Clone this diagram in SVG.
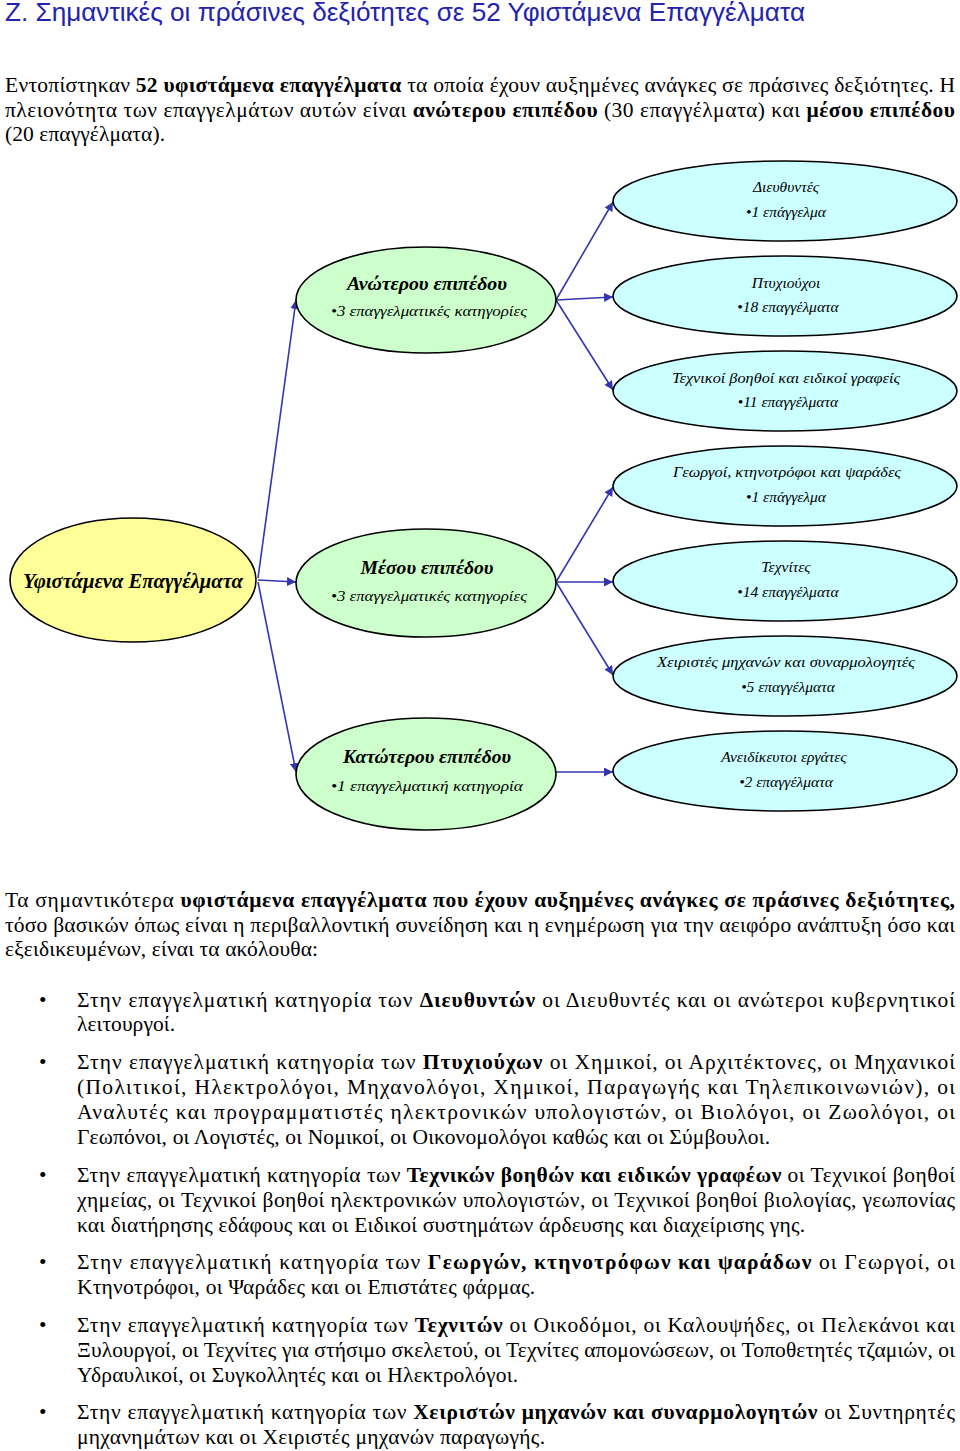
<svg xmlns="http://www.w3.org/2000/svg" width="960" height="1451" viewBox="0 0 960 1451">
<style>
.title{font-family:"Liberation Sans",Arial,sans-serif;font-size:25px;fill:#2323b0}
.body{font-family:"Liberation Serif","Times New Roman",serif;font-size:21.5px;fill:#000}
.b{font-weight:bold}
.root{fill:#ffff99;stroke:#000;stroke-width:1.6}
.mid{fill:#ccffcc;stroke:#000;stroke-width:1.6}
.leaf{fill:#ccffff;stroke:#000;stroke-width:1.6}
.et{font-family:"Liberation Serif","Times New Roman",serif;font-style:italic;fill:#000;text-anchor:middle}
.rt{font-size:21px;font-weight:bold}
.mt{font-size:19px;font-weight:bold}
.st{font-size:15.5px}
.conn line{stroke:#3535b0;stroke-width:1.6;marker-end:url(#arr)}
</style>
<defs>
<marker id="arr" viewBox="0 0 10 10" refX="10" refY="5" markerWidth="9" markerHeight="9" markerUnits="userSpaceOnUse" orient="auto">
<path d="M0,0 L10,5 L0,10 z" fill="#3535b0"/>
</marker>
</defs>
<rect width="960" height="1451" fill="#fff"/>

<text class="title" x="5" y="21" textLength="800" lengthAdjust="spacingAndGlyphs">Ζ. Σημαντικές οι πράσινες δεξιότητες σε 52 Υφιστάμενα Επαγγέλματα</text>

<g id="intro" class="body">
<text x="5" y="92" textLength="950" lengthAdjust="spacing">Εντοπίστηκαν <tspan class="b">52 υφιστάμενα επαγγέλματα</tspan> τα οποία έχουν αυξημένες ανάγκες σε πράσινες δεξιότητες. Η</text>
<text x="5" y="117" textLength="950" lengthAdjust="spacing">πλειονότητα των επαγγελμάτων αυτών είναι <tspan class="b">ανώτερου επιπέδου</tspan> (30 επαγγέλματα) και <tspan class="b">μέσου επιπέδου</tspan></text>
<text x="5" y="141" textLength="160" lengthAdjust="spacing">(20 επαγγέλματα).</text>
</g>

<g id="connectors" class="conn">
<line x1="258" y1="578" x2="296" y2="300"/>
<line x1="258" y1="580" x2="296" y2="582"/>
<line x1="258" y1="582" x2="296" y2="772"/>
<line x1="556" y1="300" x2="613" y2="202"/>
<line x1="556" y1="300" x2="613" y2="297"/>
<line x1="556" y1="300" x2="613" y2="390"/>
<line x1="556" y1="582" x2="613" y2="487"/>
<line x1="556" y1="582" x2="613" y2="582"/>
<line x1="556" y1="582" x2="613" y2="675"/>
<line x1="556" y1="772" x2="613" y2="772"/>
</g>

<g id="node-root">
<ellipse class="root" cx="133" cy="580" rx="123" ry="62"/>
<text class="et rt" x="133" y="588" textLength="220" lengthAdjust="spacingAndGlyphs">Υφιστάμενα Επαγγέλματα</text>
</g>

<g id="node-anoterou">
<ellipse class="mid" cx="426" cy="300" rx="130" ry="53"/>
<text class="et mt" x="427" y="290" textLength="160" lengthAdjust="spacingAndGlyphs">Ανώτερου επιπέδου</text>
<text class="et st" x="429" y="316" textLength="196" lengthAdjust="spacingAndGlyphs">•3 επαγγελματικές κατηγορίες</text>
</g>

<g id="node-mesou">
<ellipse class="mid" cx="426" cy="583" rx="130" ry="54"/>
<text class="et mt" x="427" y="574" textLength="133" lengthAdjust="spacingAndGlyphs">Μέσου επιπέδου</text>
<text class="et st" x="429" y="601" textLength="196" lengthAdjust="spacingAndGlyphs">•3 επαγγελματικές κατηγορίες</text>
</g>

<g id="node-katoterou">
<ellipse class="mid" cx="426" cy="774" rx="130" ry="56"/>
<text class="et mt" x="427" y="763" textLength="168" lengthAdjust="spacingAndGlyphs">Κατώτερου επιπέδου</text>
<text class="et st" x="427" y="791" textLength="192" lengthAdjust="spacingAndGlyphs">•1 επαγγελματική κατηγορία</text>
</g>

<g id="node-dieuthyntes">
<ellipse class="leaf" cx="785" cy="201" rx="172" ry="40"/>
<text class="et st" x="786" y="192">Διευθυντές</text>
<text class="et st" x="786" y="217">•1 επάγγελμα</text>
</g>

<g id="node-ptyxiouxoi">
<ellipse class="leaf" cx="785" cy="296" rx="172" ry="40"/>
<text class="et st" x="786" y="288">Πτυχιούχοι</text>
<text class="et st" x="788" y="312">•18 επαγγέλματα</text>
</g>

<g id="node-texnikoi">
<ellipse class="leaf" cx="785" cy="391" rx="172" ry="40"/>
<text class="et st" x="786" y="383" textLength="228" lengthAdjust="spacingAndGlyphs">Τεχνικοί βοηθοί και ειδικοί γραφείς</text>
<text class="et st" x="788" y="407">•11 επαγγέλματα</text>
</g>

<g id="node-georgoi">
<ellipse class="leaf" cx="785" cy="486" rx="172" ry="40"/>
<text class="et st" x="787" y="477" textLength="228" lengthAdjust="spacingAndGlyphs">Γεωργοί, κτηνοτρόφοι και ψαράδες</text>
<text class="et st" x="786" y="502">•1 επάγγελμα</text>
</g>

<g id="node-texnites">
<ellipse class="leaf" cx="785" cy="581" rx="172" ry="40"/>
<text class="et st" x="786" y="572">Τεχνίτες</text>
<text class="et st" x="788" y="597">•14 επαγγέλματα</text>
</g>

<g id="node-xeiristes">
<ellipse class="leaf" cx="785" cy="676" rx="172" ry="40"/>
<text class="et st" x="786" y="667" textLength="258" lengthAdjust="spacingAndGlyphs">Χειριστές μηχανών και συναρμολογητές</text>
<text class="et st" x="788" y="692">•5 επαγγέλματα</text>
</g>

<g id="node-aneidikeutoi">
<ellipse class="leaf" cx="785" cy="771" rx="172" ry="40"/>
<text class="et st" x="784" y="762">Ανειδίκευτοι εργάτες</text>
<text class="et st" x="786" y="787">•2 επαγγέλματα</text>
</g>

<g id="summary" class="body">
<text x="5" y="907" textLength="950" lengthAdjust="spacing">Τα σημαντικότερα <tspan class="b">υφιστάμενα επαγγέλματα που έχουν αυξημένες ανάγκες σε πράσινες δεξιότητες,</tspan></text>
<text x="5" y="932" textLength="950" lengthAdjust="spacing">τόσο βασικών όπως είναι η περιβαλλοντική συνείδηση και η ενημέρωση για την αειφόρο ανάπτυξη όσο και</text>
<text x="5" y="956" textLength="313" lengthAdjust="spacing">εξειδικευμένων, είναι τα ακόλουθα:</text>
</g>

<g id="bullets" class="body">
<text x="39" y="1007">•</text>
<text x="77" y="1007" textLength="878" lengthAdjust="spacing">Στην επαγγελματική κατηγορία των <tspan class="b">Διευθυντών</tspan> οι Διευθυντές και οι ανώτεροι κυβερνητικοί</text>
<text x="77" y="1031" textLength="98" lengthAdjust="spacing">λειτουργοί.</text>

<text x="39" y="1069">•</text>
<text x="77" y="1069" textLength="878" lengthAdjust="spacing">Στην επαγγελματική κατηγορία των <tspan class="b">Πτυχιούχων</tspan> οι Χημικοί, οι Αρχιτέκτονες, οι Μηχανικοί</text>
<text x="77" y="1094" textLength="878" lengthAdjust="spacing">(Πολιτικοί, Ηλεκτρολόγοι, Μηχανολόγοι, Χημικοί, Παραγωγής και Τηλεπικοινωνιών), οι</text>
<text x="77" y="1119" textLength="878" lengthAdjust="spacing">Αναλυτές και προγραμματιστές ηλεκτρονικών υπολογιστών, οι Βιολόγοι, οι Ζωολόγοι, οι</text>
<text x="77" y="1144" textLength="693" lengthAdjust="spacing">Γεωπόνοι, οι Λογιστές, οι Νομικοί, οι Οικονομολόγοι καθώς και οι Σύμβουλοι.</text>

<text x="39" y="1182">•</text>
<text x="77" y="1182" textLength="878" lengthAdjust="spacing">Στην επαγγελματική κατηγορία των <tspan class="b">Τεχνικών βοηθών και ειδικών γραφέων</tspan> οι Τεχνικοί βοηθοί</text>
<text x="77" y="1207" textLength="878" lengthAdjust="spacing">χημείας, οι Τεχνικοί βοηθοί ηλεκτρονικών υπολογιστών, οι Τεχνικοί βοηθοί βιολογίας, γεωπονίας</text>
<text x="77" y="1232" textLength="728" lengthAdjust="spacing">και διατήρησης εδάφους και οι Ειδικοί συστημάτων άρδευσης και διαχείρισης γης.</text>

<text x="39" y="1269">•</text>
<text x="77" y="1269" textLength="878" lengthAdjust="spacing">Στην επαγγελματική κατηγορία των <tspan class="b">Γεωργών, κτηνοτρόφων και ψαράδων</tspan> οι Γεωργοί, οι</text>
<text x="77" y="1294" textLength="458" lengthAdjust="spacing">Κτηνοτρόφοι, οι Ψαράδες και οι Επιστάτες φάρμας.</text>

<text x="39" y="1332">•</text>
<text x="77" y="1332" textLength="878" lengthAdjust="spacing">Στην επαγγελματική κατηγορία των <tspan class="b">Τεχνιτών</tspan> οι Οικοδόμοι, οι Καλουψήδες, οι Πελεκάνοι και</text>
<text x="77" y="1357" textLength="878" lengthAdjust="spacing">Ξυλουργοί, οι Τεχνίτες για στήσιμο σκελετού, οι Τεχνίτες απομονώσεων, οι Τοποθετητές τζαμιών, οι</text>
<text x="77" y="1382" textLength="441" lengthAdjust="spacing">Υδραυλικοί, οι Συγκολλητές και οι Ηλεκτρολόγοι.</text>

<text x="39" y="1419">•</text>
<text x="77" y="1419" textLength="878" lengthAdjust="spacing">Στην επαγγελματική κατηγορία των <tspan class="b">Χειριστών μηχανών και συναρμολογητών</tspan> οι Συντηρητές</text>
<text x="77" y="1444" textLength="468" lengthAdjust="spacing">μηχανημάτων και οι Χειριστές μηχανών παραγωγής.</text>
</g>
</svg>
